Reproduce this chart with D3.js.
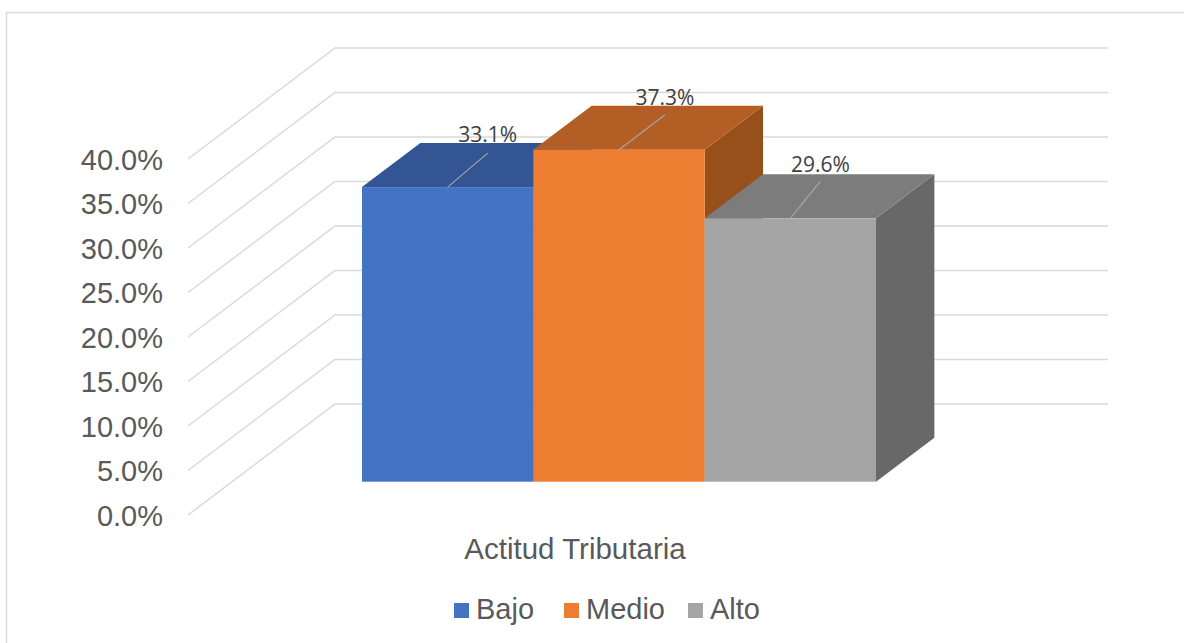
<html>
<head>
<script src='https://d3js.org/d3.v7.min.js'></script>
<style>
	html, body {margin: 0; padding: 0; background: white;}
	svg {display: block;}
	text {font-family: "Liberation Sans", Arial, sans-serif; fill: #595959;}
	.dataLabel {font-family: "Open Sans", sans-serif; fill: #404040;}
</style>
</head>
<body>
<svg width=1184 height=643></svg>
<script>

var categories = ["Bajo", "Medio", "Alto"];
var values = [33.1, 37.3, 29.6];
var yTicks = [0, 5, 10, 15, 20, 25, 30, 35, 40];
var axisTitle = "Actitud Tributaria";

var frontColors = ["#4472C4", "#ED7D31", "#A5A5A5"];
var topColors = ["#335593", "#B25E25", "#7C7C7C"];
var sideColors = ["#335593", "#975019", "#686868"];

var svg = d3.select("svg");

//frame, only top and left are visible
svg.append("path")
  .attr("d", "M6.5,643V12.5H1184")
  .attr("fill", "none")
  .attr("stroke", "#D9D9D9")
  .attr("stroke-width", 1.5);

//scales
var y = d3.scaleLinear().domain([0, 40]).range([515, 159]);
var x = d3.scaleBand().domain(categories).range([362, 876]);
var depthX = d3.scaleLinear().domain([0, 1]).range([0, 147]);
var depthY = d3.scaleLinear().domain([0, 1]).range([0, -111]);
var barFront = 0.3;
var barBack = 0.697;

//point on the chart floor/wall: px on the category axis, v on the value axis, d is depth
function pt(px, v, d) {
	return (px + depthX(d)) + "," + (y(v) + depthY(d));
}
// bars are placed with x already in front plane, so only the depth difference moves them
function barPt(px, v, d) {
	return (px + depthX(d - barFront)) + "," + (y(v) + depthY(d));
}

//gridlines on the side wall and back wall
var grid = svg.append("g").attr("fill", "none").attr("stroke", "#D9D9D9").attr("stroke-width", 1.5);
grid.selectAll("path").data(yTicks).enter().append("path")
  .attr("d", function(d) {
	  return "M" + pt(188, d, 0) + "L" + pt(188, d, 1) + "H1108";
  });

//y axis labels
var yaxis = svg.append("g")
  .attr("transform", "translate(172,0)")
  .call(d3.axisLeft(y).tickValues(yTicks).tickSize(0).tickFormat(function(d) {return d.toFixed(1) + "%";}));
yaxis.select(".domain").remove();
yaxis.selectAll("text")
  .attr("x", -9)
  .attr("dy", "0.36em")
  .style("font-family", "'Liberation Sans'")
  .style("font-size", "29px")
  .style("fill", "#595959");

//bars, drawn left to right so each one covers the one before
var bars = svg.selectAll(".bar").data(categories).enter().append("g").attr("class", "bar");

bars.append("polygon")
  .attr("fill", function(d, i) {return sideColors[i];})
  .attr("points", function(d, i) {
	  var r = x(d) + x.bandwidth();
	  return [barPt(r, 0, barFront), barPt(r, 0, barBack), barPt(r, values[i], barBack), barPt(r, values[i], barFront)].join(" ");
  });

bars.append("polygon")
  .attr("fill", function(d, i) {return topColors[i];})
  .attr("points", function(d, i) {
	  var l = x(d), r = l + x.bandwidth();
	  return [barPt(l, values[i], barFront), barPt(l, values[i], barBack), barPt(r, values[i], barBack), barPt(r, values[i], barFront)].join(" ");
  });

bars.append("rect")
  .attr("fill", function(d, i) {return frontColors[i];})
  .attr("x", function(d) {return x(d);})
  .attr("y", function(d, i) {return y(values[i]) + depthY(barFront);})
  .attr("width", x.bandwidth())
  .attr("height", function(d, i) {return y(0) - y(values[i]);});

//data labels with leader lines
var leaderDx = [40, 46, 30];
var leaderDy = [-34, -35, -37];
var labelDy = [-45, -45, -46];

bars.append("line")
  .attr("stroke", "#A6A6A6")
  .attr("stroke-width", 1.2)
  .attr("x1", function(d) {return x(d) + x.bandwidth() / 2;})
  .attr("y1", function(d, i) {return y(values[i]) + depthY(barFront);})
  .attr("x2", function(d, i) {return x(d) + x.bandwidth() / 2 + leaderDx[i];})
  .attr("y2", function(d, i) {return y(values[i]) + depthY(barFront) + leaderDy[i];});

bars.append("text")
  .attr("class", "dataLabel")
  .attr("text-anchor", "middle")
  .attr("font-size", 21)
  .attr("x", function(d, i) {return x(d) + x.bandwidth() / 2 + leaderDx[i];})
  .attr("y", function(d, i) {return y(values[i]) + depthY(barFront) + labelDy[i];})
  .text(function(d, i) {return values[i].toFixed(1) + "%";});

//axis title
svg.append("text")
  .attr("x", 575)
  .attr("y", 559)
  .attr("text-anchor", "middle")
  .attr("font-size", 29.5)
  .text(axisTitle);

//legend
var legendX = [454, 564, 688];
var legend = svg.selectAll(".legend").data(categories).enter().append("g").attr("class", "legend");

legend.append("rect")
  .attr("x", function(d, i) {return legendX[i];})
  .attr("y", 603)
  .attr("width", 15)
  .attr("height", 15)
  .attr("fill", function(d, i) {return frontColors[i];});

legend.append("text")
  .attr("x", function(d, i) {return legendX[i] + 22;})
  .attr("y", 619)
  .attr("font-size", 29)
  .text(function(d) {return d;});

</script>
</body>
</html>
